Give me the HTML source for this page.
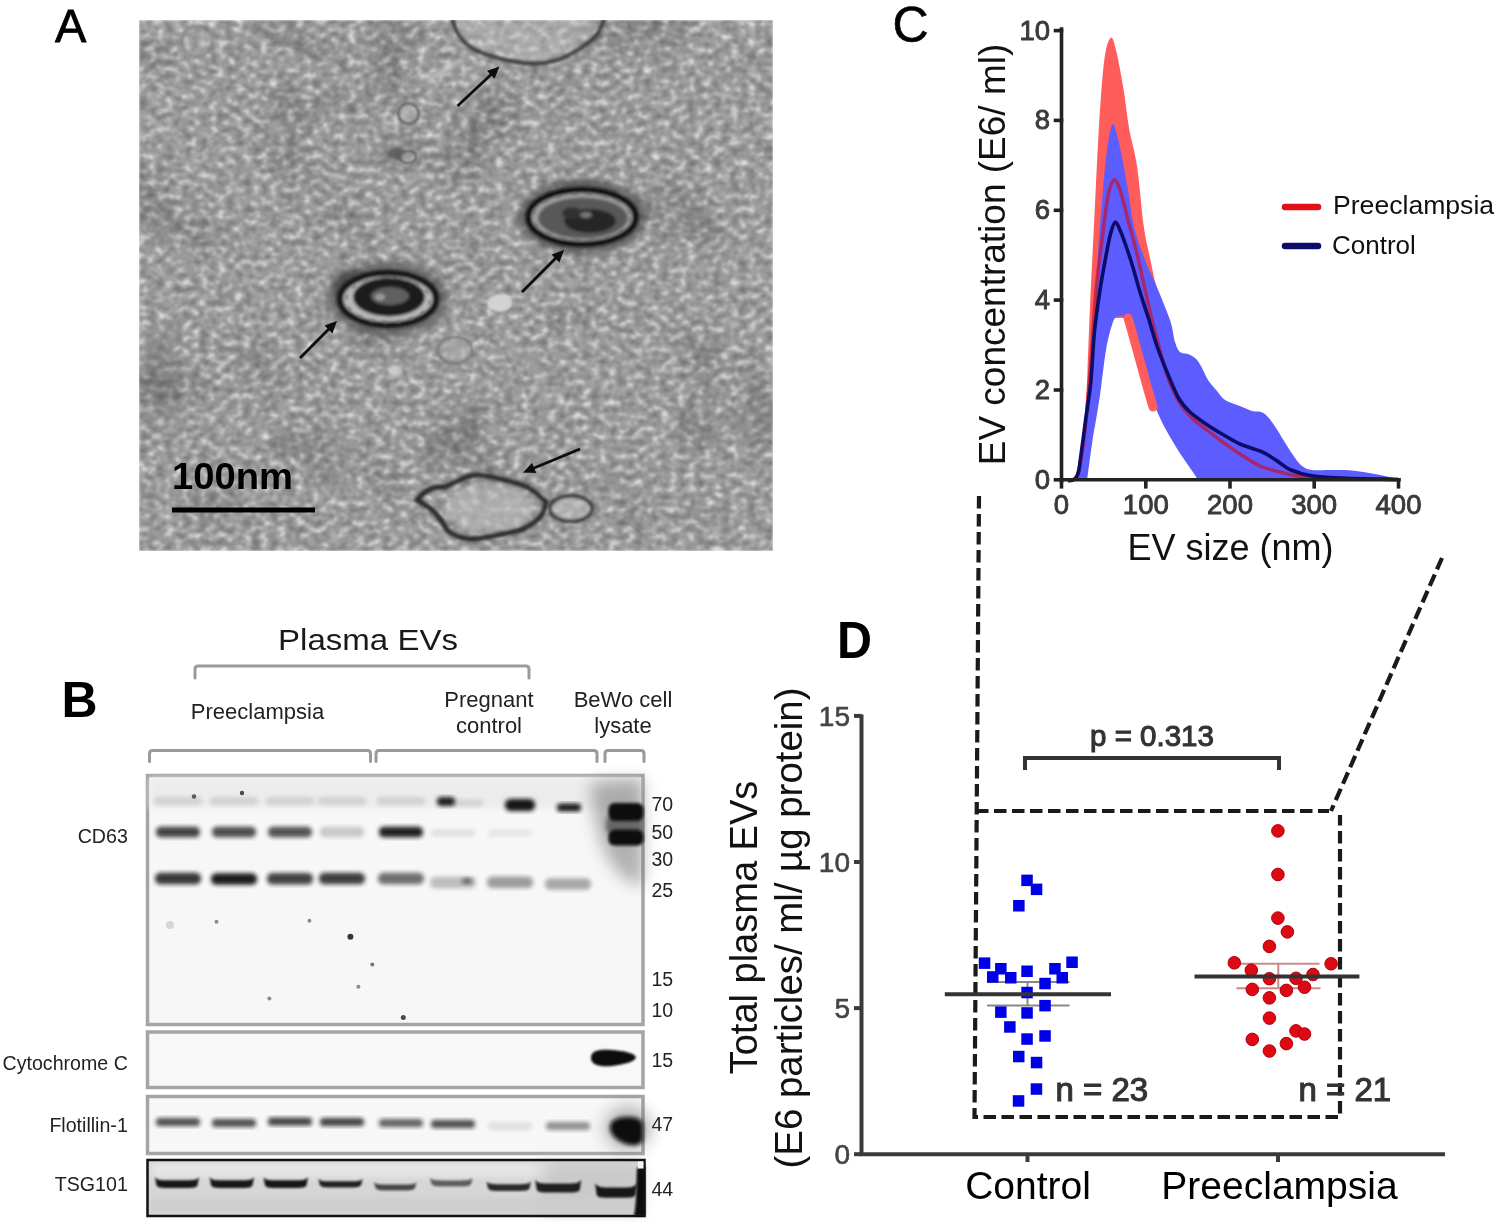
<!DOCTYPE html>
<html><head><meta charset="utf-8"><title>Figure</title>
<style>html,body{margin:0;padding:0;background:#fff;}svg{display:block;}</style>
</head><body>
<svg width="1495" height="1222" viewBox="0 0 1495 1222" font-family="Liberation Sans, sans-serif">
<rect width="1495" height="1222" fill="#fff"/>
<defs>
<filter id="tex" x="0" y="0" width="1" height="1" filterUnits="objectBoundingBox" color-interpolation-filters="sRGB">
<feTurbulence type="fractalNoise" baseFrequency="0.115 0.15" numOctaves="2" seed="5"/>
<feColorMatrix type="matrix" values="1 0 0 0 0  1 0 0 0 0  1 0 0 0 0  0 0 0 0 1"/>
<feComponentTransfer><feFuncR type="table" tableValues="0.42 0.45 0.48 0.525 0.57 0.61 0.67 0.77 0.86 0.9 0.91"/><feFuncG type="table" tableValues="0.42 0.45 0.48 0.525 0.57 0.61 0.67 0.77 0.86 0.9 0.91"/><feFuncB type="table" tableValues="0.42 0.45 0.48 0.525 0.57 0.61 0.67 0.77 0.86 0.9 0.91"/></feComponentTransfer>
<feGaussianBlur stdDeviation="0.8"/>
</filter>
<filter id="tex3" x="0" y="0" width="1" height="1" filterUnits="objectBoundingBox" color-interpolation-filters="sRGB">
<feTurbulence type="fractalNoise" baseFrequency="0.012" numOctaves="2" seed="2" result="n"/>
<feColorMatrix in="n" type="matrix" values="0 0 0 0 0  0 0 0 0 0  0 0 0 0 0  -2.5 0 0 0 1.05"/>
</filter>
<filter id="b07" x="-20%" y="-20%" width="140%" height="140%"><feGaussianBlur stdDeviation="0.7"/></filter>
<filter id="b1" x="-30%" y="-30%" width="160%" height="160%"><feGaussianBlur stdDeviation="1"/></filter>
<filter id="b15" x="-30%" y="-30%" width="160%" height="160%"><feGaussianBlur stdDeviation="1.5"/></filter>
<filter id="b2" x="-30%" y="-30%" width="160%" height="160%"><feGaussianBlur stdDeviation="2"/></filter>
<filter id="b3" x="-40%" y="-40%" width="180%" height="180%"><feGaussianBlur stdDeviation="3"/></filter>
<filter id="b8" x="-60%" y="-60%" width="220%" height="220%"><feGaussianBlur stdDeviation="8"/></filter>
<filter id="b12" x="-60%" y="-60%" width="220%" height="220%"><feGaussianBlur stdDeviation="14"/></filter>
</defs>
<clipPath id="temclip"><rect x="139" y="20" width="634" height="531"/></clipPath>
<g clip-path="url(#temclip)">
<rect x="139" y="20" width="634" height="531" filter="url(#tex)"/>
<rect x="139" y="20" width="634" height="531" filter="url(#tex3)" opacity="0.25"/>
<path d="M452,20 C455,40 470,55 508,61 C530,64 550,62 560,59 C575,53 590,42 604,20 Z" fill="#c4c4c4" opacity="0.4" filter="url(#b3)"/>
<path d="M452.4,19 C455,32 462,44 478.9,51.8 C490,56 500,59 508.3,60.7 C520,63 530,64 537.7,63.6 C545,63 552,61.5 559.8,59.2 C570,55 576,51 581.9,47.4 C588,43 593,39 596.6,35.7 C600,31 602,26 604,19" fill="none" stroke="#383838" stroke-width="3.8" filter="url(#b15)"/>
<path d="M428,80 L462,60" stroke="#d0d0d0" stroke-width="6" opacity="0.7" filter="url(#b2)"/>
<g filter="url(#b1)">
<circle cx="408.5" cy="113.5" r="10" fill="#b4b4b4" fill-opacity="0.6" stroke="#666" stroke-width="2.5"/>
<ellipse cx="397" cy="154" rx="9" ry="6" fill="#444" fill-opacity="0.6"/><ellipse cx="408" cy="157" rx="8" ry="6" fill="#c0c0c0" fill-opacity="0.6" stroke="#555" stroke-width="2"/>
<ellipse cx="455" cy="350" rx="17" ry="13" fill="#b0b0b0" fill-opacity="0.5" stroke="#7a7a7a" stroke-width="2.5"/>
<ellipse cx="500" cy="303" rx="12" ry="9" fill="#d2d2d2"/>
</g>
<circle cx="197" cy="41.5" r="15" fill="#b0b0b0" fill-opacity="0.35" stroke="#7a7a7a" stroke-width="2" stroke-opacity="0.6" filter="url(#b1)"/>
<path d="M246,20 C270,35 295,48 322,61" fill="none" stroke="#6a6a6a" stroke-width="3" opacity="0.6" filter="url(#b2)"/>
<ellipse cx="395" cy="371" rx="7" ry="6" fill="#cfcfcf" opacity="0.8" filter="url(#b15)"/>
<ellipse cx="290" cy="446" rx="18" ry="10" fill="#666" opacity="0.35" filter="url(#b3)"/>
<g filter="url(#b8)" opacity="0.3">
<ellipse cx="395" cy="150" rx="25" ry="12" fill="#555"/>
<ellipse cx="300" cy="40" rx="50" ry="8" fill="#666" transform="rotate(25 300 40)"/>
<ellipse cx="160" cy="380" rx="20" ry="50" fill="#666"/>
<ellipse cx="760" cy="410" rx="14" ry="40" fill="#555"/>
</g>
<g filter="url(#b3)"><ellipse cx="388" cy="299" rx="60" ry="37" fill="#555" opacity="0.75"/><ellipse cx="350" cy="285" rx="18" ry="16" fill="#333" opacity="0.5"/></g>
<g filter="url(#b15)">
<ellipse cx="388" cy="299" rx="48" ry="26" fill="#b8b8b8" stroke="#141414" stroke-width="6.5"/>
<ellipse cx="389" cy="297" rx="36" ry="19.5" fill="#1c1c1c"/>
<ellipse cx="390" cy="296" rx="19" ry="9" fill="#5e5e5e"/>
<ellipse cx="380" cy="297" rx="5" ry="3.5" fill="#9a9a9a"/>
</g>
<g filter="url(#b1)" opacity="0.7">
<ellipse cx="388" cy="300" rx="42" ry="22.5" fill="none" stroke="#6a6a6a" stroke-width="2.5" stroke-dasharray="5 8"/>
</g>
<g filter="url(#b3)"><ellipse cx="582" cy="217" rx="64" ry="37" fill="#4a4a4a" opacity="0.7"/></g>
<g filter="url(#b15)">
<ellipse cx="582" cy="217" rx="53.5" ry="27" fill="#9e9e9e" stroke="#101010" stroke-width="6"/>
<ellipse cx="583" cy="218" rx="45" ry="20.5" fill="#585858"/>
<ellipse cx="590" cy="221" rx="26" ry="12" fill="#262626"/>
<ellipse cx="572" cy="213" rx="10" ry="6" fill="#333"/>
<ellipse cx="586" cy="215" rx="6" ry="3" fill="#777"/>
</g>
<g filter="url(#b1)" opacity="0.6">
<ellipse cx="582" cy="217" rx="49" ry="23.5" fill="none" stroke="#606060" stroke-width="2.5" stroke-dasharray="6 9"/>
</g>
<ellipse cx="490" cy="508" rx="44" ry="24" fill="#bdbdbd" opacity="0.6" filter="url(#b3)"/>
<path d="M417,500 C425,490 435,486 445,487 C460,480 470,474 480,475 C495,477 505,480 512,482 C520,484 528,486 535,492 L546,502 C545,512 540,518 537,520 C530,526 520,531 512,532 C495,536 480,539 470,539 C460,538 452,535 447,530 C443,522 438,515 430,508 Z" fill="none" stroke="#2a2a2a" stroke-width="5" filter="url(#b15)"/>
<ellipse cx="571" cy="508.6" rx="21" ry="12.5" fill="#bdbdbd" fill-opacity="0.6" stroke="#2e2e2e" stroke-width="3.5" filter="url(#b15)"/>
<g filter="url(#b07)">
<line x1="457.5" y1="106.0" x2="492.2" y2="73.4" stroke="#0a0a0a" stroke-width="2.8"/><polygon points="499.5,66.6 494.5,78.8 487.0,70.8" fill="#0a0a0a"/>
<line x1="300.0" y1="358.0" x2="329.9" y2="328.1" stroke="#0a0a0a" stroke-width="2.8"/><polygon points="337.0,321.0 332.4,333.4 324.6,325.6" fill="#0a0a0a"/>
<line x1="522.0" y1="292.0" x2="556.9" y2="257.1" stroke="#0a0a0a" stroke-width="2.8"/><polygon points="564.0,250.0 559.4,262.4 551.6,254.6" fill="#0a0a0a"/>
<line x1="580.0" y1="449.0" x2="532.2" y2="468.8" stroke="#0a0a0a" stroke-width="2.8"/><polygon points="523.0,472.6 532.0,462.9 536.2,473.1" fill="#0a0a0a"/>
</g>
<g filter="url(#b07)">
<line x1="172" y1="510" x2="315" y2="510" stroke="#000" stroke-width="5"/>
<text x="172" y="489" font-family="Liberation Sans" font-weight="bold" font-size="37" fill="#000" textLength="121" lengthAdjust="spacingAndGlyphs">100nm</text>
</g>
</g>
<text x="55" y="41.5" font-family="Liberation Sans" font-size="47" fill="#000" stroke="#000" stroke-width="0.8">A</text>
<text x="61.5" y="717" font-family="Liberation Sans" font-size="50" font-weight="bold" fill="#000">B</text>
<text x="368.0" y="650.0" font-family="Liberation Sans" font-size="30" text-anchor="middle" fill="#1a1a1a" font-weight="normal" textLength="180" lengthAdjust="spacingAndGlyphs">Plasma EVs</text>
<path d="M195.0,678.0 L195.0,669.0 Q195.0,666.0 198.0,666.0 L526.0,666.0 Q529.0,666.0 529.0,669.0 L529.0,678.0" fill="none" stroke="#9a9a9a" stroke-width="3" stroke-linecap="round"/>
<text x="257.5" y="718.7" font-family="Liberation Sans" font-size="22" text-anchor="middle" fill="#222" font-weight="normal" >Preeclampsia</text>
<text x="489.0" y="707.0" font-family="Liberation Sans" font-size="22" text-anchor="middle" fill="#222" font-weight="normal" >Pregnant</text>
<text x="489.0" y="733.0" font-family="Liberation Sans" font-size="22" text-anchor="middle" fill="#222" font-weight="normal" >control</text>
<text x="623.0" y="707.0" font-family="Liberation Sans" font-size="22" text-anchor="middle" fill="#222" font-weight="normal" >BeWo cell</text>
<text x="623.0" y="733.0" font-family="Liberation Sans" font-size="22" text-anchor="middle" fill="#222" font-weight="normal" >lysate</text>
<path d="M149.5,761.5 L149.5,753.5 Q149.5,750.5 152.5,750.5 L367.5,750.5 Q370.5,750.5 370.5,753.5 L370.5,761.5" fill="none" stroke="#9a9a9a" stroke-width="3" stroke-linecap="round"/>
<path d="M376.0,761.5 L376.0,753.5 Q376.0,750.5 379.0,750.5 L594.0,750.5 Q597.0,750.5 597.0,753.5 L597.0,761.5" fill="none" stroke="#9a9a9a" stroke-width="3" stroke-linecap="round"/>
<path d="M605.0,761.5 L605.0,753.5 Q605.0,750.5 608.0,750.5 L641.0,750.5 Q644.0,750.5 644.0,753.5 L644.0,761.5" fill="none" stroke="#9a9a9a" stroke-width="3" stroke-linecap="round"/>
<text x="127.8" y="843.2" font-family="Liberation Sans" font-size="19.6" text-anchor="end" fill="#222" font-weight="normal" >CD63</text>
<text x="127.8" y="1069.5" font-family="Liberation Sans" font-size="19.6" text-anchor="end" fill="#222" font-weight="normal" >Cytochrome C</text>
<text x="127.8" y="1131.7" font-family="Liberation Sans" font-size="19.6" text-anchor="end" fill="#222" font-weight="normal" >Flotillin-1</text>
<text x="127.8" y="1191.0" font-family="Liberation Sans" font-size="19.6" text-anchor="end" fill="#222" font-weight="normal" >TSG101</text>
<text x="651.5" y="811.0" font-family="Liberation Sans" font-size="19.5" text-anchor="start" fill="#222" font-weight="normal" >70</text>
<text x="651.5" y="838.5" font-family="Liberation Sans" font-size="19.5" text-anchor="start" fill="#222" font-weight="normal" >50</text>
<text x="651.5" y="866.4" font-family="Liberation Sans" font-size="19.5" text-anchor="start" fill="#222" font-weight="normal" >30</text>
<text x="651.5" y="897.4" font-family="Liberation Sans" font-size="19.5" text-anchor="start" fill="#222" font-weight="normal" >25</text>
<text x="651.5" y="985.5" font-family="Liberation Sans" font-size="19.5" text-anchor="start" fill="#222" font-weight="normal" >15</text>
<text x="651.5" y="1017.4" font-family="Liberation Sans" font-size="19.5" text-anchor="start" fill="#222" font-weight="normal" >10</text>
<text x="651.5" y="1066.7" font-family="Liberation Sans" font-size="19.5" text-anchor="start" fill="#222" font-weight="normal" >15</text>
<text x="651.5" y="1131.0" font-family="Liberation Sans" font-size="19.5" text-anchor="start" fill="#222" font-weight="normal" >47</text>
<text x="651.5" y="1195.6" font-family="Liberation Sans" font-size="19.5" text-anchor="start" fill="#222" font-weight="normal" >44</text>
<rect x="147.5" y="775.5" width="495.5" height="249" fill="#f7f7f7" stroke="#a5a5a5" stroke-width="3.5"/>
<rect x="150" y="778" width="490" height="30" fill="#ececec" filter="url(#b3)"/>
<rect x="154.0" y="797.0" width="48.0" height="8.0" rx="3.6" fill="#151515" opacity="0.12" filter="url(#b2)"/>
<rect x="210.0" y="797.0" width="48.0" height="8.0" rx="3.6" fill="#151515" opacity="0.12" filter="url(#b2)"/>
<rect x="266.0" y="797.0" width="48.0" height="8.0" rx="3.6" fill="#151515" opacity="0.12" filter="url(#b2)"/>
<rect x="318.0" y="797.0" width="48.0" height="8.0" rx="3.6" fill="#151515" opacity="0.12" filter="url(#b2)"/>
<rect x="377.0" y="797.0" width="48.0" height="8.0" rx="3.6" fill="#151515" opacity="0.12" filter="url(#b2)"/>
<rect x="437.0" y="797.0" width="18.0" height="9.0" rx="4.1" fill="#151515" opacity="0.95" filter="url(#b2)"/>
<rect x="505.0" y="799.0" width="30.0" height="12.0" rx="5.5" fill="#151515" opacity="1.00" filter="url(#b2)"/>
<rect x="557.0" y="803.5" width="24.0" height="8.0" rx="3.6" fill="#151515" opacity="0.97" filter="url(#b2)"/>
<rect x="453.0" y="799.5" width="30.0" height="7.0" rx="3.2" fill="#151515" opacity="0.12" filter="url(#b2)"/>
<path d="M592,782 L643,779 L643,885 C628,885 610,868 602,845 C595,825 590,800 592,782 Z" fill="#6a6a6a" opacity="0.5" filter="url(#b8)"/>
<rect x="606" y="818" width="37" height="14" fill="#555" opacity="0.8" filter="url(#b2)"/>
<rect x="608.5" y="803" width="35" height="18" rx="6" fill="#080808" filter="url(#b15)"/>
<rect x="608.5" y="829.5" width="35" height="16" rx="6" fill="#080808" filter="url(#b15)"/>
<rect x="156.0" y="826.8" width="44.0" height="10.5" rx="4.8" fill="#151515" opacity="0.80" filter="url(#b2)"/>
<rect x="212.0" y="826.8" width="44.0" height="10.5" rx="4.8" fill="#151515" opacity="0.75" filter="url(#b2)"/>
<rect x="268.0" y="826.8" width="44.0" height="10.5" rx="4.8" fill="#151515" opacity="0.72" filter="url(#b2)"/>
<rect x="320.0" y="826.8" width="44.0" height="10.5" rx="4.8" fill="#151515" opacity="0.20" filter="url(#b2)"/>
<rect x="379.0" y="826.8" width="44.0" height="10.5" rx="4.8" fill="#151515" opacity="0.95" filter="url(#b2)"/>
<rect x="431.0" y="829.5" width="44.0" height="7.0" rx="3.2" fill="#151515" opacity="0.10" filter="url(#b2)"/>
<rect x="488.0" y="829.5" width="44.0" height="7.0" rx="3.2" fill="#151515" opacity="0.08" filter="url(#b2)"/>
<rect x="155.0" y="872.8" width="46.0" height="11.5" rx="5.2" fill="#151515" opacity="0.85" filter="url(#b2)"/>
<rect x="211.0" y="873.2" width="46.0" height="11.5" rx="5.2" fill="#151515" opacity="0.97" filter="url(#b2)"/>
<rect x="267.0" y="873.0" width="46.0" height="11.5" rx="5.2" fill="#151515" opacity="0.80" filter="url(#b2)"/>
<rect x="319.0" y="872.8" width="46.0" height="11.5" rx="5.2" fill="#151515" opacity="0.82" filter="url(#b2)"/>
<rect x="378.0" y="872.8" width="46.0" height="11.5" rx="5.2" fill="#151515" opacity="0.60" filter="url(#b2)"/>
<rect x="430.0" y="876.8" width="46.0" height="11.5" rx="5.2" fill="#151515" opacity="0.25" filter="url(#b2)"/>
<rect x="487.0" y="876.5" width="46.0" height="11.5" rx="5.2" fill="#151515" opacity="0.40" filter="url(#b2)"/>
<rect x="545.0" y="878.2" width="46.0" height="11.5" rx="5.2" fill="#151515" opacity="0.35" filter="url(#b2)"/>
<rect x="462.0" y="878.0" width="10.0" height="6.0" rx="2.7" fill="#151515" opacity="0.50" filter="url(#b2)"/>
<circle cx="194.0" cy="796.5" r="2.2" fill="#222" opacity="0.70" filter="url(#b07)"/>
<circle cx="242.0" cy="793.0" r="2.2" fill="#222" opacity="0.80" filter="url(#b07)"/>
<circle cx="350.4" cy="936.7" r="3.0" fill="#222" opacity="0.90" filter="url(#b07)"/>
<circle cx="372.3" cy="964.5" r="2.0" fill="#222" opacity="0.60" filter="url(#b07)"/>
<circle cx="358.4" cy="986.8" r="2.0" fill="#222" opacity="0.50" filter="url(#b07)"/>
<circle cx="403.3" cy="1017.4" r="2.5" fill="#222" opacity="0.80" filter="url(#b07)"/>
<circle cx="269.4" cy="998.6" r="2.0" fill="#222" opacity="0.50" filter="url(#b07)"/>
<circle cx="216.5" cy="921.7" r="2.0" fill="#222" opacity="0.50" filter="url(#b07)"/>
<circle cx="309.4" cy="920.7" r="2.0" fill="#222" opacity="0.50" filter="url(#b07)"/>
<circle cx="170.0" cy="925.0" r="4.0" fill="#222" opacity="0.15" filter="url(#b07)"/>
<rect x="147.5" y="1032" width="495.5" height="55.5" fill="#f8f8f8" stroke="#a5a5a5" stroke-width="3.5"/>
<path d="M591,1058 C591,1050 600,1049 612,1050 C625,1051 633,1053 636,1057 C635,1062 625,1064 612,1066 C600,1067 591,1065 591,1058 Z" fill="#080808" filter="url(#b1)"/>
<rect x="147.5" y="1096.5" width="495.5" height="57" fill="#f7f7f7" stroke="#a5a5a5" stroke-width="3.5"/>
<rect x="156.0" y="1118.0" width="44.0" height="8.0" rx="3.6" fill="#151515" opacity="0.75" filter="url(#b2)"/>
<rect x="212.0" y="1119.0" width="44.0" height="8.0" rx="3.6" fill="#151515" opacity="0.75" filter="url(#b2)"/>
<rect x="268.0" y="1117.5" width="44.0" height="8.0" rx="3.6" fill="#151515" opacity="0.80" filter="url(#b2)"/>
<rect x="320.0" y="1118.0" width="44.0" height="8.0" rx="3.6" fill="#151515" opacity="0.80" filter="url(#b2)"/>
<rect x="379.0" y="1119.0" width="44.0" height="8.0" rx="3.6" fill="#151515" opacity="0.65" filter="url(#b2)"/>
<rect x="431.0" y="1120.0" width="44.0" height="8.0" rx="3.6" fill="#151515" opacity="0.75" filter="url(#b2)"/>
<rect x="488.0" y="1122.0" width="44.0" height="8.0" rx="3.6" fill="#151515" opacity="0.10" filter="url(#b2)"/>
<rect x="546.0" y="1122.0" width="44.0" height="8.0" rx="3.6" fill="#151515" opacity="0.45" filter="url(#b2)"/>
<ellipse cx="628" cy="1128" rx="24" ry="22" fill="#666" opacity="0.45" filter="url(#b8)"/>
<path d="M610,1127 C610,1120 618,1117 628,1117 C636,1117 642,1119 643,1125 L643,1140 C640,1146 632,1146 626,1144 C618,1141 610,1136 610,1127 Z" fill="#080808" filter="url(#b2)"/>
<rect x="147.5" y="1160" width="497" height="56" fill="#d6d6d6"/>
<rect x="152" y="1163" width="400" height="14" fill="#e6e6e6" filter="url(#b3)"/>
<rect x="540" y="1163" width="100" height="50" fill="#c4c4c4" opacity="0.7" filter="url(#b8)"/>
<rect x="150" y="1198" width="492" height="15" fill="#cdcdcd" filter="url(#b3)"/>
<path d="M155.0,1177.0 C157.0,1180.3 162.0,1180.3 167.0,1180.3 L187.0,1180.3 C192.0,1180.3 197.0,1180.3 199.0,1177.0 L197.5,1185.5 Q196.0,1188.0 189.0,1188.0 L165.0,1188.0 Q158.0,1188.0 156.5,1185.5 Z" fill="#0e0e0e" opacity="0.95" filter="url(#b1)"/>
<path d="M209.6,1177.0 C211.6,1180.3 216.6,1180.3 221.6,1180.3 L242.0,1180.3 C247.0,1180.3 252.0,1180.3 254.0,1177.0 L252.5,1185.5 Q251.0,1188.0 244.0,1188.0 L219.6,1188.0 Q212.6,1188.0 211.1,1185.5 Z" fill="#0e0e0e" opacity="0.95" filter="url(#b1)"/>
<path d="M263.5,1177.0 C265.5,1180.3 270.5,1180.3 275.5,1180.3 L296.0,1180.3 C301.0,1180.3 306.0,1180.3 308.0,1177.0 L306.5,1185.5 Q305.0,1188.0 298.0,1188.0 L273.5,1188.0 Q266.5,1188.0 265.0,1185.5 Z" fill="#0e0e0e" opacity="0.95" filter="url(#b1)"/>
<path d="M318.3,1178.7 C320.3,1181.3 325.3,1181.3 330.3,1181.3 L350.6,1181.3 C355.6,1181.3 360.6,1181.3 362.6,1178.7 L361.1,1184.9 Q359.6,1187.4 352.6,1187.4 L328.3,1187.4 Q321.3,1187.4 319.8,1184.9 Z" fill="#0e0e0e" opacity="0.90" filter="url(#b1)"/>
<path d="M374.0,1182.0 C376.0,1184.5 381.0,1184.5 386.0,1184.5 L404.5,1184.5 C409.5,1184.5 414.5,1184.5 416.5,1182.0 L415.0,1188.0 Q413.5,1190.5 406.5,1190.5 L384.0,1190.5 Q377.0,1190.5 375.5,1188.0 Z" fill="#0e0e0e" opacity="0.70" filter="url(#b1)"/>
<path d="M430.0,1177.8 C432.0,1180.4 437.0,1180.4 442.0,1180.4 L460.6,1180.4 C465.6,1180.4 470.6,1180.4 472.6,1177.8 L471.1,1184.0 Q469.6,1186.5 462.6,1186.5 L440.0,1186.5 Q433.0,1186.5 431.5,1184.0 Z" fill="#0e0e0e" opacity="0.60" filter="url(#b1)"/>
<path d="M486.5,1181.3 C488.5,1184.2 493.5,1184.2 498.5,1184.2 L519.0,1184.2 C524.0,1184.2 529.0,1184.2 531.0,1181.3 L529.5,1188.5 Q528.0,1191.0 521.0,1191.0 L496.5,1191.0 Q489.5,1191.0 488.0,1188.5 Z" fill="#0e0e0e" opacity="0.85" filter="url(#b1)"/>
<path d="M535.2,1179.6 C537.2,1183.5 542.2,1183.5 547.2,1183.5 L569.3,1183.5 C574.3,1183.5 579.3,1183.5 581.3,1179.6 L579.8,1190.1 Q578.3,1192.6 571.3,1192.6 L545.2,1192.6 Q538.2,1192.6 536.7,1190.1 Z" fill="#0e0e0e" opacity="0.90" filter="url(#b1)"/>
<path d="M595.2,1183.0 C597.2,1187.4 602.2,1187.4 607.2,1187.4 L625.0,1187.4 C630.0,1187.4 635.0,1187.4 637.0,1183.0 L635.5,1195.3 Q634.0,1197.8 627.0,1197.8 L605.2,1197.8 Q598.2,1197.8 596.7,1195.3 Z" fill="#0e0e0e" opacity="0.95" filter="url(#b1)"/>
<rect x="147.5" y="1160" width="497" height="56" fill="none" stroke="#111" stroke-width="2.5"/>
<path d="M637,1168 L645,1166 L645,1216 L634,1216 C637,1200 636,1185 637,1168 Z" fill="#0a0a0a" filter="url(#b1)"/>
<rect x="638" y="1161.5" width="5.5" height="7" fill="#f4f4f4"/>
<text x="892.5" y="41.5" font-family="Liberation Sans" font-size="50" fill="#000" stroke="#000" stroke-width="0.6">C</text>
<path d="M1074.0,481.0 C1074.7,478.3 1076.5,472.7 1078.0,465.0 C1079.5,457.3 1081.7,445.8 1083.0,435.0 C1084.3,424.2 1085.2,410.8 1086.0,400.0 C1086.8,389.2 1086.7,388.5 1087.5,370.0 C1088.3,351.5 1089.6,314.8 1090.8,289.0 C1092.0,263.2 1093.2,240.7 1094.5,215.0 C1095.8,189.3 1096.9,160.5 1098.5,135.0 C1100.1,109.5 1102.0,78.2 1104.0,62.0 C1106.0,45.8 1108.5,40.0 1110.5,38.0 C1112.5,36.0 1113.8,41.5 1116.0,50.0 C1118.2,58.5 1121.3,76.0 1123.5,89.0 C1125.7,102.0 1126.8,115.2 1129.0,128.0 C1131.2,140.8 1134.5,149.7 1137.0,166.0 C1139.5,182.3 1141.5,210.7 1143.7,226.0 C1145.9,241.3 1148.0,248.2 1150.0,258.0 C1152.0,267.8 1154.0,278.0 1156.0,285.0 C1158.0,292.0 1161.0,297.5 1162.0,300.0 L1160.0,305.0 L1130.0,318.0 L1112.0,318.0 L1100.0,330.0 L1090.0,400.0 L1082.0,470.0 L1079.0,481.0 Z" fill="#ff5c5c"/>
<path d="M1073.0,481.0 C1073.7,479.8 1075.8,477.5 1077.0,474.0 C1078.2,470.5 1078.9,469.0 1080.3,460.0 C1081.7,451.0 1083.8,433.3 1085.6,420.0 C1087.4,406.7 1089.6,394.2 1091.0,380.0 C1092.4,365.8 1092.8,356.5 1094.0,335.0 C1095.2,313.5 1096.8,275.2 1098.3,251.0 C1099.8,226.8 1101.5,206.8 1103.0,190.0 C1104.5,173.2 1105.5,160.9 1107.0,150.0 C1108.5,139.1 1110.6,127.1 1112.3,124.6 C1114.0,122.1 1115.5,130.0 1117.0,135.0 C1118.5,140.0 1119.7,145.4 1121.5,154.6 C1123.3,163.8 1125.9,178.0 1128.0,190.0 C1130.1,202.0 1131.1,214.9 1133.9,226.6 C1136.7,238.3 1141.3,250.3 1145.0,260.0 C1148.7,269.7 1151.8,275.0 1156.0,285.0 C1160.2,295.0 1166.8,310.5 1170.0,320.0 C1173.2,329.5 1173.3,336.7 1175.0,342.0 C1176.7,347.3 1177.8,350.0 1180.0,352.0 C1182.2,354.0 1185.5,353.0 1188.0,354.0 C1190.5,355.0 1192.8,356.0 1195.0,358.0 C1197.2,360.0 1198.8,362.3 1201.0,366.0 C1203.2,369.7 1205.3,375.8 1208.0,380.0 C1210.7,384.2 1214.2,387.7 1217.0,391.0 C1219.8,394.3 1221.2,397.5 1225.0,400.0 C1228.8,402.5 1235.5,404.2 1240.0,406.0 C1244.5,407.8 1248.5,410.0 1252.0,411.0 C1255.5,412.0 1258.3,411.0 1261.0,412.0 C1263.7,413.0 1265.5,414.3 1268.0,417.0 C1270.5,419.7 1273.3,424.0 1276.0,428.0 C1278.7,432.0 1281.2,436.5 1284.0,441.0 C1286.8,445.5 1290.0,450.8 1293.0,455.0 C1296.0,459.2 1298.8,463.5 1302.0,466.0 C1305.2,468.5 1307.5,469.3 1312.0,470.0 C1316.5,470.7 1322.3,469.9 1329.0,470.0 C1335.7,470.1 1344.3,469.8 1352.0,470.5 C1359.7,471.2 1367.3,472.6 1375.0,474.0 C1382.7,475.4 1394.2,478.2 1398.0,479.0 L1199.0,481.0 C1197.2,478.3 1191.8,470.7 1188.0,465.0 C1184.2,459.3 1179.8,453.2 1176.0,447.0 C1172.2,440.8 1168.4,434.5 1165.0,428.0 C1161.6,421.5 1158.6,415.2 1155.6,408.0 C1152.6,400.8 1149.9,393.5 1147.0,385.0 C1144.1,376.5 1140.8,366.2 1138.0,357.0 C1135.2,347.8 1132.2,336.5 1130.0,330.0 C1127.8,323.5 1127.2,320.2 1125.0,318.0 C1122.8,315.8 1118.8,315.6 1116.6,316.8 C1114.4,318.0 1113.8,319.5 1112.0,325.0 C1110.2,330.5 1108.0,338.3 1106.0,350.0 C1104.0,361.7 1101.7,383.3 1100.0,395.0 C1098.3,406.7 1097.2,413.0 1096.0,420.0 C1094.8,427.0 1094.0,430.7 1093.0,437.0 C1092.0,443.3 1091.0,450.7 1090.0,458.0 C1089.0,465.3 1087.5,477.2 1087.0,481.0 Z" fill="#5c5cff"/>
<path d="M1128,318 C1136,345 1144,377 1153,407" fill="none" stroke="#ff5c5c" stroke-width="9" stroke-linecap="round"/>
<path d="M1070.0,481.0 C1071.2,480.2 1075.2,479.5 1077.0,476.0 C1078.8,472.5 1079.5,469.3 1081.0,460.0 C1082.5,450.7 1084.3,436.7 1086.0,420.0 C1087.7,403.3 1089.3,381.7 1091.0,360.0 C1092.7,338.3 1094.2,310.0 1096.0,290.0 C1097.8,270.0 1100.0,255.7 1102.0,240.0 C1104.0,224.3 1106.0,206.0 1108.0,196.0 C1110.0,186.0 1112.0,181.0 1114.0,180.0 C1116.0,179.0 1117.7,183.3 1120.0,190.0 C1122.3,196.7 1125.3,209.8 1128.0,220.0 C1130.7,230.2 1133.6,240.2 1136.3,251.0 C1139.0,261.8 1141.4,273.5 1144.0,285.0 C1146.6,296.5 1149.3,309.2 1152.0,320.0 C1154.7,330.8 1157.3,340.3 1160.0,350.0 C1162.7,359.7 1164.9,369.5 1168.0,378.0 C1171.1,386.5 1174.5,394.3 1178.5,401.0 C1182.5,407.7 1187.1,413.0 1192.0,418.0 C1196.9,423.0 1202.7,426.8 1208.0,431.0 C1213.3,435.2 1218.7,439.2 1224.0,443.0 C1229.3,446.8 1234.0,450.2 1240.0,454.0 C1246.0,457.8 1253.3,463.0 1260.0,466.0 C1266.7,469.0 1273.3,470.3 1280.0,472.0 C1286.7,473.7 1290.0,474.9 1300.0,476.0 C1310.0,477.1 1323.7,477.9 1340.0,478.5 C1356.3,479.1 1388.3,479.3 1398.0,479.5" fill="none" stroke="#c8102e" stroke-opacity="0.7" stroke-width="3.5" stroke-linejoin="round"/>
<path d="M1068.0,481.0 C1069.2,480.7 1073.2,480.5 1075.0,479.0 C1076.8,477.5 1077.6,475.2 1078.5,472.0 C1079.4,468.8 1079.5,465.3 1080.3,460.0 C1081.0,454.7 1082.1,446.7 1083.0,440.0 C1083.9,433.3 1084.7,426.7 1085.6,420.0 C1086.5,413.3 1087.6,406.7 1088.5,400.0 C1089.4,393.3 1090.0,391.7 1091.0,380.0 C1092.0,368.3 1093.1,345.0 1094.6,330.0 C1096.1,315.0 1098.0,303.2 1100.0,290.0 C1102.0,276.8 1105.1,260.7 1106.9,251.0 C1108.7,241.3 1109.6,236.8 1111.0,232.0 C1112.4,227.2 1113.8,222.3 1115.3,222.0 C1116.8,221.7 1118.2,226.0 1120.0,230.0 C1121.8,234.0 1123.9,239.9 1126.0,246.0 C1128.1,252.1 1130.4,258.7 1132.7,266.4 C1135.0,274.1 1137.3,283.2 1140.0,292.0 C1142.7,300.8 1145.9,310.0 1148.7,319.0 C1151.5,328.0 1154.0,337.2 1157.0,346.0 C1160.0,354.8 1163.4,363.3 1167.0,372.0 C1170.6,380.7 1174.7,391.3 1178.5,398.0 C1182.3,404.7 1185.4,407.7 1190.0,412.0 C1194.6,416.3 1200.7,420.3 1206.0,424.0 C1211.3,427.7 1216.3,430.7 1222.0,434.0 C1227.7,437.3 1233.7,441.2 1240.0,444.0 C1246.3,446.8 1255.3,449.2 1260.0,451.0 C1264.7,452.8 1264.7,453.0 1268.0,455.0 C1271.3,457.0 1276.2,460.5 1280.0,463.0 C1283.8,465.5 1286.0,467.9 1291.0,470.0 C1296.0,472.1 1301.8,474.2 1310.0,475.5 C1318.2,476.8 1325.3,477.3 1340.0,478.0 C1354.7,478.7 1388.3,479.2 1398.0,479.5" fill="none" stroke="#0c0c6a" stroke-width="3.6" stroke-linejoin="round"/>
<g stroke="#222" stroke-width="3.6" fill="none" stroke-linecap="square">
<line x1="1061.5" y1="29" x2="1061.5" y2="481"/>
<line x1="1061.5" y1="479.8" x2="1399" y2="479.8"/>
<line x1="1055.5" y1="479.8" x2="1061.5" y2="479.8"/>
<line x1="1055.5" y1="390.0" x2="1061.5" y2="390.0"/>
<line x1="1055.5" y1="300.1" x2="1061.5" y2="300.1"/>
<line x1="1055.5" y1="210.3" x2="1061.5" y2="210.3"/>
<line x1="1055.5" y1="120.4" x2="1061.5" y2="120.4"/>
<line x1="1055.5" y1="30.6" x2="1061.5" y2="30.6"/>
<line x1="1061.5" y1="479.8" x2="1061.5" y2="486.8"/>
<line x1="1145.8" y1="479.8" x2="1145.8" y2="486.8"/>
<line x1="1230.0" y1="479.8" x2="1230.0" y2="486.8"/>
<line x1="1314.2" y1="479.8" x2="1314.2" y2="486.8"/>
<line x1="1398.5" y1="479.8" x2="1398.5" y2="486.8"/>
</g>
<text x="1050" y="488.8" font-family="Liberation Sans" font-size="27.5" fill="#3a3a3a" stroke="#3a3a3a" stroke-width="0.9" text-anchor="end">0</text>
<text x="1050" y="399.0" font-family="Liberation Sans" font-size="27.5" fill="#3a3a3a" stroke="#3a3a3a" stroke-width="0.9" text-anchor="end">2</text>
<text x="1050" y="309.1" font-family="Liberation Sans" font-size="27.5" fill="#3a3a3a" stroke="#3a3a3a" stroke-width="0.9" text-anchor="end">4</text>
<text x="1050" y="219.3" font-family="Liberation Sans" font-size="27.5" fill="#3a3a3a" stroke="#3a3a3a" stroke-width="0.9" text-anchor="end">6</text>
<text x="1050" y="129.4" font-family="Liberation Sans" font-size="27.5" fill="#3a3a3a" stroke="#3a3a3a" stroke-width="0.9" text-anchor="end">8</text>
<text x="1050" y="39.6" font-family="Liberation Sans" font-size="27.5" fill="#3a3a3a" stroke="#3a3a3a" stroke-width="0.9" text-anchor="end">10</text>
<text x="1061.5" y="514" font-family="Liberation Sans" font-size="27.5" fill="#3a3a3a" stroke="#3a3a3a" stroke-width="0.9" text-anchor="middle">0</text>
<text x="1145.8" y="514" font-family="Liberation Sans" font-size="27.5" fill="#3a3a3a" stroke="#3a3a3a" stroke-width="0.9" text-anchor="middle">100</text>
<text x="1230.0" y="514" font-family="Liberation Sans" font-size="27.5" fill="#3a3a3a" stroke="#3a3a3a" stroke-width="0.9" text-anchor="middle">200</text>
<text x="1314.2" y="514" font-family="Liberation Sans" font-size="27.5" fill="#3a3a3a" stroke="#3a3a3a" stroke-width="0.9" text-anchor="middle">300</text>
<text x="1398.5" y="514" font-family="Liberation Sans" font-size="27.5" fill="#3a3a3a" stroke="#3a3a3a" stroke-width="0.9" text-anchor="middle">400</text>
<text x="1230.5" y="560.3" font-family="Liberation Sans" font-size="36" fill="#111" text-anchor="middle">EV size (nm)</text>
<text transform="translate(1005,254.5) rotate(-90)" x="0" y="0" font-family="Liberation Sans" font-size="37" fill="#111" text-anchor="middle">EV concentration (E6/ ml)</text>
<line x1="1285" y1="207" x2="1318" y2="207" stroke="#e0101a" stroke-width="6.5" stroke-linecap="round"/>
<line x1="1285" y1="246" x2="1318" y2="246" stroke="#0c0c6a" stroke-width="6.5" stroke-linecap="round"/>
<text x="1333" y="214.3" font-family="Liberation Sans" font-size="26.6" fill="#111">Preeclampsia</text>
<text x="1332" y="253.5" font-family="Liberation Sans" font-size="26" fill="#111">Control</text>
<text x="837" y="657.5" font-family="Liberation Sans" font-size="52" font-weight="bold" fill="#000" textLength="35" lengthAdjust="spacingAndGlyphs">D</text>
<text transform="translate(756.5,927.5) rotate(-90)" font-family="Liberation Sans" font-size="38" fill="#111" text-anchor="middle">Total plasma EVs</text>
<text transform="translate(802,928) rotate(-90)" font-family="Liberation Sans" font-size="38.4" fill="#111" text-anchor="middle">(E6 particles/ ml/ µg protein)</text>
<g fill="none" stroke="#1a1a1a" stroke-width="4.2" stroke-dasharray="12.5 5.5">
<path d="M979,496 L974.5,1117 L1340,1117 L1340,815"/>
<path d="M976,811 L1329,811"/>
<path d="M1442,558 L1331,811"/>
</g>
<g stroke="#3a3a3a" stroke-width="4" fill="none">
<line x1="861.5" y1="714.5" x2="861.5" y2="1156"/>
<line x1="859.5" y1="1154.2" x2="1445" y2="1154.2"/>
<line x1="854" y1="1154.2" x2="861.5" y2="1154.2"/>
<line x1="854" y1="1008.1" x2="861.5" y2="1008.1"/>
<line x1="854" y1="862.0" x2="861.5" y2="862.0"/>
<line x1="854" y1="715.9" x2="861.5" y2="715.9"/>
<line x1="1027.5" y1="1154" x2="1027.5" y2="1162"/>
<line x1="1278" y1="1154" x2="1278" y2="1162"/>
</g>
<text x="850" y="1164.2" font-family="Liberation Sans" font-size="28" fill="#444" stroke="#444" stroke-width="0.6" text-anchor="end">0</text>
<text x="850" y="1018.1" font-family="Liberation Sans" font-size="28" fill="#444" stroke="#444" stroke-width="0.6" text-anchor="end">5</text>
<text x="850" y="872.0" font-family="Liberation Sans" font-size="28" fill="#444" stroke="#444" stroke-width="0.6" text-anchor="end">10</text>
<text x="850" y="725.9" font-family="Liberation Sans" font-size="28" fill="#444" stroke="#444" stroke-width="0.6" text-anchor="end">15</text>
<text x="1028" y="1198.6" font-family="Liberation Sans" font-size="39" fill="#000" text-anchor="middle">Control</text>
<text x="1279.5" y="1198.6" font-family="Liberation Sans" font-size="39" fill="#000" text-anchor="middle">Preeclampsia</text>
<path d="M1025,770 L1025,758 L1279,758 L1279,770" fill="none" stroke="#333" stroke-width="4"/>
<text x="1152" y="746.2" font-family="Liberation Sans" font-size="29.5" fill="#333" stroke="#333" stroke-width="1.1" text-anchor="middle">p = 0.313</text>
<g stroke="#888" stroke-width="2" fill="none">
<line x1="987" y1="982" x2="1069.6" y2="982"/><line x1="987" y1="1005.6" x2="1069.6" y2="1005.6"/><line x1="1027.5" y1="982" x2="1027.5" y2="1005.6"/>
</g>
<g stroke="#c88" stroke-width="2" fill="none">
<line x1="1241" y1="963.8" x2="1319.5" y2="963.8"/><line x1="1236.5" y1="988.3" x2="1320.5" y2="988.3"/><line x1="1278.3" y1="963.8" x2="1278.3" y2="988.3"/>
</g>
<rect x="1021.3" y="874.6" width="11.5" height="11.5" fill="#0000e6"/>
<rect x="1030.8" y="883.6" width="11.5" height="11.5" fill="#0000e6"/>
<rect x="1013.1" y="900.0" width="11.5" height="11.5" fill="#0000e6"/>
<rect x="978.8" y="957.4" width="11.5" height="11.5" fill="#0000e6"/>
<rect x="995.1" y="963.0" width="11.5" height="11.5" fill="#0000e6"/>
<rect x="987.0" y="971.2" width="11.5" height="11.5" fill="#0000e6"/>
<rect x="1005.0" y="972.0" width="11.5" height="11.5" fill="#0000e6"/>
<rect x="1021.3" y="965.5" width="11.5" height="11.5" fill="#0000e6"/>
<rect x="1049.2" y="963.0" width="11.5" height="11.5" fill="#0000e6"/>
<rect x="1066.3" y="956.5" width="11.5" height="11.5" fill="#0000e6"/>
<rect x="1056.5" y="972.0" width="11.5" height="11.5" fill="#0000e6"/>
<rect x="1039.3" y="977.8" width="11.5" height="11.5" fill="#0000e6"/>
<rect x="1021.3" y="986.8" width="11.5" height="11.5" fill="#0000e6"/>
<rect x="1039.3" y="999.9" width="11.5" height="11.5" fill="#0000e6"/>
<rect x="995.1" y="1006.4" width="11.5" height="11.5" fill="#0000e6"/>
<rect x="1021.3" y="1007.2" width="11.5" height="11.5" fill="#0000e6"/>
<rect x="1004.1" y="1021.2" width="11.5" height="11.5" fill="#0000e6"/>
<rect x="1021.3" y="1033.3" width="11.5" height="11.5" fill="#0000e6"/>
<rect x="1039.3" y="1030.2" width="11.5" height="11.5" fill="#0000e6"/>
<rect x="1013.0" y="1050.8" width="11.5" height="11.5" fill="#0000e6"/>
<rect x="1030.8" y="1056.8" width="11.5" height="11.5" fill="#0000e6"/>
<rect x="1012.8" y="1095.2" width="11.5" height="11.5" fill="#0000e6"/>
<rect x="1030.7" y="1083.3" width="11.5" height="11.5" fill="#0000e6"/>
<circle cx="1277.9" cy="830.9" r="6.3" fill="#dd0a14" stroke="#b0000a" stroke-width="1"/>
<circle cx="1277.9" cy="874.5" r="6.3" fill="#dd0a14" stroke="#b0000a" stroke-width="1"/>
<circle cx="1277.9" cy="918.1" r="6.3" fill="#dd0a14" stroke="#b0000a" stroke-width="1"/>
<circle cx="1287.4" cy="931.9" r="6.3" fill="#dd0a14" stroke="#b0000a" stroke-width="1"/>
<circle cx="1269.4" cy="946.4" r="6.3" fill="#dd0a14" stroke="#b0000a" stroke-width="1"/>
<circle cx="1234.3" cy="962.8" r="6.3" fill="#dd0a14" stroke="#b0000a" stroke-width="1"/>
<circle cx="1331.1" cy="963.8" r="6.3" fill="#dd0a14" stroke="#b0000a" stroke-width="1"/>
<circle cx="1251.3" cy="970.2" r="6.3" fill="#dd0a14" stroke="#b0000a" stroke-width="1"/>
<circle cx="1313.0" cy="974.5" r="6.3" fill="#dd0a14" stroke="#b0000a" stroke-width="1"/>
<circle cx="1269.4" cy="978.7" r="6.3" fill="#dd0a14" stroke="#b0000a" stroke-width="1"/>
<circle cx="1296.0" cy="978.3" r="6.3" fill="#dd0a14" stroke="#b0000a" stroke-width="1"/>
<circle cx="1252.3" cy="989.4" r="6.3" fill="#dd0a14" stroke="#b0000a" stroke-width="1"/>
<circle cx="1286.4" cy="990.4" r="6.3" fill="#dd0a14" stroke="#b0000a" stroke-width="1"/>
<circle cx="1304.5" cy="987.2" r="6.3" fill="#dd0a14" stroke="#b0000a" stroke-width="1"/>
<circle cx="1269.4" cy="997.9" r="6.3" fill="#dd0a14" stroke="#b0000a" stroke-width="1"/>
<circle cx="1269.4" cy="1018.1" r="6.3" fill="#dd0a14" stroke="#b0000a" stroke-width="1"/>
<circle cx="1296.0" cy="1030.9" r="6.3" fill="#dd0a14" stroke="#b0000a" stroke-width="1"/>
<circle cx="1304.5" cy="1034.0" r="6.3" fill="#dd0a14" stroke="#b0000a" stroke-width="1"/>
<circle cx="1252.3" cy="1039.4" r="6.3" fill="#dd0a14" stroke="#b0000a" stroke-width="1"/>
<circle cx="1286.4" cy="1043.6" r="6.3" fill="#dd0a14" stroke="#b0000a" stroke-width="1"/>
<circle cx="1269.4" cy="1051.0" r="6.3" fill="#dd0a14" stroke="#b0000a" stroke-width="1"/>
<line x1="944.8" y1="994.3" x2="1111" y2="994.3" stroke="#333" stroke-width="4"/>
<line x1="1194.5" y1="976.6" x2="1359.4" y2="976.6" stroke="#333" stroke-width="4"/>
<text x="1055.5" y="1101" font-family="Liberation Sans" font-size="33" fill="#333" stroke="#333" stroke-width="1.1">n = 23</text>
<text x="1298.5" y="1101" font-family="Liberation Sans" font-size="33" fill="#333" stroke="#333" stroke-width="1.1">n = 21</text>
</svg>
</body></html>
